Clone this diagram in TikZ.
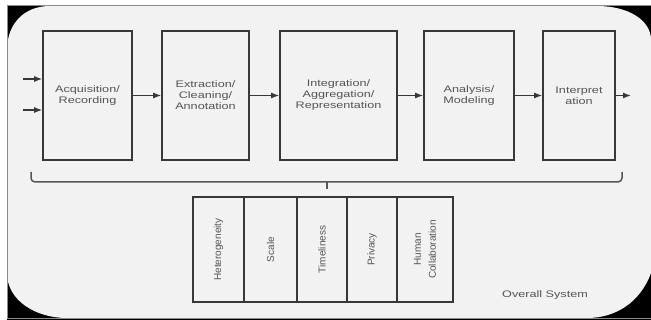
\documentclass[tikz,border=0pt]{standalone}
\usepackage{fontspec}
\setmainfont{Liberation Sans}[FakeStretch=1.33]
\newfontfamily\plainsans{Liberation Sans}
\usepackage{xcolor}
\usepackage{tikz}
\usetikzlibrary{arrows.meta}
\definecolor{panel}{HTML}{F2F2F2}
\definecolor{edge}{HTML}{383838}
\definecolor{ink}{HTML}{555555}
\definecolor{frame}{HTML}{8C8C8C}
\tikzset{
  stage/.style={draw=edge, line width=1.6pt, minimum height=129pt, inner sep=1pt, align=center, text=ink, font=\fontsize{9.5}{11}\selectfont},
  issue/.style={draw=edge, line width=1.6pt, rotate=90, minimum width=105pt, inner sep=1pt, align=center, text=ink, font=\plainsans\fontsize{10}{15}\selectfont},
  flow/.style={draw=edge, line width=1.3pt, -{Latex[length=8pt,width=6pt]}},
  brace/.style={draw=edge!85, line width=1.5pt, rounded corners=4pt},
  note/.style={text=ink, font=\fontsize{9.5}{11}\selectfont}
}

\begin{document}
\begin{tikzpicture}[x=1pt, y=-1pt]
\useasboundingbox (0,0) rectangle (651,320);
% backdrop
\fill[white] (0,0) rectangle (651,320);
\fill[black] (7,6) rectangle (651,320);
\fill[panel] (7,50) .. controls (7,24) and (24,6) .. (50,6) -- (597,6)
  .. controls (628,6) and (651,20) .. (651,40) -- (651,273)
  .. controls (640,303) and (615,318) .. (587,318) -- (67,318)
  .. controls (35,318) and (7,300) .. (7,273) -- cycle;
\draw[frame, line width=1pt] (651,6) -- (7,6) -- (7,319) -- (651,319);
% pipeline
\node[stage, minimum width=89pt] (acq) at (87.5,95.5) {Acquisition/\\Recording};
\node[stage, minimum width=87pt] (ext) at (205.5,95.5) {Extraction/\\Cleaning/\\Annotation};
\node[stage, minimum width=117pt] (int) at (338.5,95.5) {Integration/\\Aggregation/\\Representation};
\node[stage, minimum width=90pt] (ana) at (469,95.5) {Analysis/\\Modeling};
\node[stage, minimum width=72pt] (intp) at (579,95.5) {Interpret\\ation};
\coordinate (in1) at (23,79);
\coordinate (in2) at (23,110);
\coordinate (out) at (631,95.5);
\draw[flow] (in1) -- (in1 -| acq.west);
\draw[flow] (in2) -- (in2 -| acq.west);
\draw[flow] (acq) -- (ext);
\draw[flow] (ext) -- (int);
\draw[flow] (int) -- (ana);
\draw[flow] (ana) -- (intp);
\draw[flow] (intp) -- (out);
% brace
\coordinate (bl) at (31,172);
\coordinate (br) at (622,172);
\coordinate (tip) at (327,182);
\draw[brace] (bl) -- (bl |- tip) -- (br |- tip) -- (br);
\draw[brace] (tip) -- ++(0,7);
% challenges
\node[issue, minimum height=51pt] (het) at (218.5,249.5) {Heterogeneity};
\node[issue, minimum height=53pt] (scl) at (270.5,249.5) {Scale};
\node[issue, minimum height=50pt] (tim) at (322,249.5) {Timeliness};
\node[issue, minimum height=50pt] (prv) at (372,249.5) {Privacy};
\node[issue, minimum height=56pt] (hum) at (425,249.5) {Human\\Collaboration};
\node[note] (sys) at (545,295) {Overall System};
\end{tikzpicture}
\end{document}
